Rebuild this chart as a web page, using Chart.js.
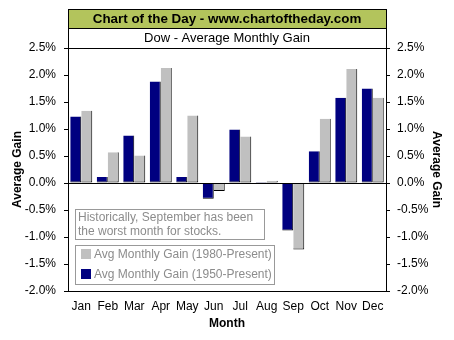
<!DOCTYPE html>
<html><head><meta charset="utf-8">
<script src="https://cdn.jsdelivr.net/npm/chart.js@4.4.0/dist/chart.umd.min.js"></script>
<style>html,body{margin:0;padding:0;background:#fff;}#wrap{width:454px;height:340px;}</style>
</head><body><div id="wrap"><canvas id="c" width="454" height="340"></canvas></div>
<script>
const months = ['Jan','Feb','Mar','Apr','May','Jun','Jul','Aug','Sep','Oct','Nov','Dec'];
const gain1950 = [1.23,0.11,0.88,1.88,0.11,-0.29,0.99,0.02,-0.88,0.59,1.58,1.75];
const gain1980 = [1.34,0.57,0.51,2.13,1.25,-0.15,0.86,0.04,-1.23,1.19,2.11,1.58];
const yMin = -2.0, yMax = 2.5, yStep = 0.5;
const titleText = 'Chart of the Day - www.chartoftheday.com';
const subtitleText = 'Dow - Average Monthly Gain';
const noteLines = ['Historically, September has been', 'the worst month for stocks.'];
const legendLabels = ['Avg Monthly Gain (1980-Present)', 'Avg Monthly Gain (1950-Present)'];
const FONT = 'Arial, "Liberation Sans", sans-serif';

const deco = {
  id: 'deco',
  beforeDraw(chart) {
    const c = chart.ctx;
    c.save(); c.fillStyle = '#fff'; c.fillRect(0, 0, chart.width, chart.height); c.restore();
  },
  afterDatasetsDraw(chart) {
    const c = chart.ctx, a = chart.chartArea;
    const y0 = Math.round(chart.scales.y.getPixelForValue(0)) + 0.5;
    c.save();
    c.strokeStyle = '#000'; c.lineWidth = 1;
    c.beginPath(); c.moveTo(a.left, y0); c.lineTo(a.right, y0); c.stroke();
    c.restore();
  },
  afterDraw(chart) {
    const c = chart.ctx, a = chart.chartArea;
    const L = Math.round(a.left) + 0.5, R = Math.round(a.right) + 0.5;
    c.save();
    c.lineWidth = 1; c.strokeStyle = '#000';
    c.fillStyle = '#b3c45c';
    c.fillRect(L, 9.5, R - L, 19);
    c.strokeRect(L, 9.5, R - L, 19);
    c.fillStyle = '#fff';
    c.fillRect(L, 28.5, R - L, 20);
    c.strokeRect(L, 28.5, R - L, 20);
    c.strokeRect(L, 48.5, R - L, Math.round(a.bottom) - 48);
    c.textAlign = 'center'; c.textBaseline = 'middle';
    c.fillStyle = '#000';
    c.font = 'bold 13.4px ' + FONT;
    c.fillText(titleText, (a.left + a.right) / 2, 19.5);
    c.font = '13px ' + FONT;
    c.fillText(subtitleText, (a.left + a.right) / 2, 38.5);
    c.strokeStyle = '#999';
    c.fillStyle = '#fff';
    c.fillRect(75.5, 209.5, 189, 30);
    c.strokeRect(75.5, 209.5, 189, 30);
    c.fillStyle = '#8c8c8c';
    c.textAlign = 'left';
    c.font = '12px ' + FONT;
    c.fillText(noteLines[0], 78, 217.5);
    c.fillText(noteLines[1], 78, 231.5);
    c.fillStyle = '#fff';
    c.fillRect(75.5, 245.5, 199, 39);
    c.strokeRect(75.5, 245.5, 199, 39);
    c.fillStyle = '#c0c0c0';
    c.fillRect(81, 249, 10, 10);
    c.fillStyle = '#000080';
    c.fillRect(81, 269, 10, 10);
    c.fillStyle = '#8c8c8c';
    c.fillText(legendLabels[0], 94, 254.5);
    c.fillText(legendLabels[1], 94, 274.5);
    c.restore();
  }
};

const tickFmt = v => v.toFixed(1) + '%';
const yCommon = {
  min: yMin, max: yMax,
  ticks: { stepSize: yStep, callback: tickFmt, color: '#000', font: { family: FONT, size: 12 }, padding: 8 },
  grid: { drawOnChartArea: false, drawTicks: true, tickLength: 4, color: '#000' },
  border: { display: true, color: '#000' },
  title: { display: true, text: 'Average Gain', color: '#000', font: { family: FONT, size: 12, weight: 'bold' }, padding: { top: 10, bottom: 0 } },
  afterFit(s) { s.width = 68; }
};

new Chart(document.getElementById('c'), {
  type: 'bar',
  data: {
    labels: months,
    datasets: [
      { label: legendLabels[1], data: gain1950, backgroundColor: '#000080', borderColor: '#000', borderWidth: { top: 0, left: 0, right: 1, bottom: 1 }, borderSkipped: false },
      { label: legendLabels[0], data: gain1980, backgroundColor: '#c0c0c0', borderColor: '#000', borderWidth: { top: 0, left: 0, right: 1, bottom: 1 }, borderSkipped: false }
    ]
  },
  options: {
    responsive: false, animation: false, devicePixelRatio: 1,
    categoryPercentage: 0.83, barPercentage: 1.0,
    layout: { padding: { top: 48, left: 0, right: 0, bottom: 0 } },
    plugins: { legend: { display: false }, tooltip: { enabled: false }, title: { display: false } },
    scales: {
      x: {
        grid: { display: false, drawTicks: false },
        border: { display: true, color: '#000' },
        ticks: { color: '#000', font: { family: FONT, size: 12 }, padding: 8, maxRotation: 0, autoSkip: false },
        title: { display: true, text: 'Month', color: '#000', font: { family: FONT, size: 12, weight: 'bold' }, padding: { top: 0, bottom: 9.5 } },
        afterFit(s) { s.height = 49; }
      },
      y: Object.assign({}, yCommon, { position: 'left' }),
      y2: Object.assign({}, yCommon, { position: 'right', ticks: Object.assign({}, yCommon.ticks, { padding: 7 }) })
    }
  },
  plugins: [deco]
});
</script></body></html>
